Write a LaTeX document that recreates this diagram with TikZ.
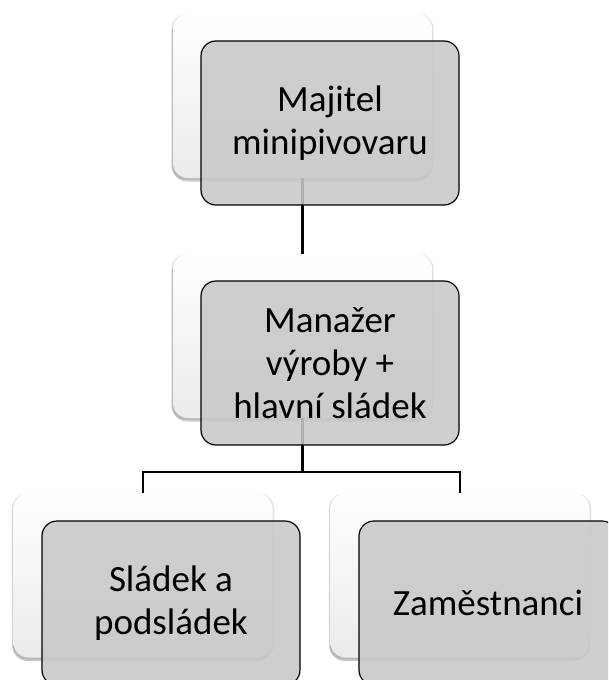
\documentclass[tikz,border=0pt]{standalone}
\usepackage{fontspec}
\setmainfont{Carlito}
\usetikzlibrary{shadows}
\begin{document}
\begin{tikzpicture}[x=1pt,y=-1pt,
  backbox/.style={rectangle, rounded corners=15pt, minimum width=259pt, minimum height=164pt, inner sep=0pt,
    top color=white, middle color=white, bottom color=gray!16,
    general shadow={fill=black, opacity=0.12, shadow xshift=0pt, shadow yshift=-1pt, shadow scale=1.012},
    drop shadow={shadow xshift=-1pt, shadow yshift=-3.5pt, opacity=0.4}},
  frontbox/.style={rectangle, rounded corners=15pt, minimum width=258pt, minimum height=164pt, inner sep=0pt,
    draw=black, line width=1.2pt, fill={rgb,255:red,200;green,200;blue,200}, fill opacity=0.88, text opacity=1,
    align=center, font=\fontsize{37}{43}\selectfont},
  conn/.style={line width=2.3pt, draw=black}]
\clip (0,0) rectangle (608,680);
% back boxes
\node[backbox] (b1) at (302.5,96) {};
\node[backbox] (b2) at (302.5,336) {};
\node[backbox] (b3) at (143,575.5) {};
\node[backbox] (b4) at (460,575.5) {};
% connectors
\draw[conn] (b1.south) -- (b2.north);
\draw[conn] (b2.south) -- ++(0,54) -| (b3.north);
\draw[conn] (b2.south) -- ++(0,54) -| (b4.north);
% front boxes
\node[frontbox] (f1) at (330,123) {Majitel\\minipivovaru};
\node[frontbox] (f2) at (330,363) {Manažer\\výroby +\\hlavní sládek};
\node[frontbox] (f3) at (171,603) {Sládek a\\podsládek};
\node[frontbox] (f4) at (488,603) {Zaměstnanci};
\end{tikzpicture}
\end{document}
